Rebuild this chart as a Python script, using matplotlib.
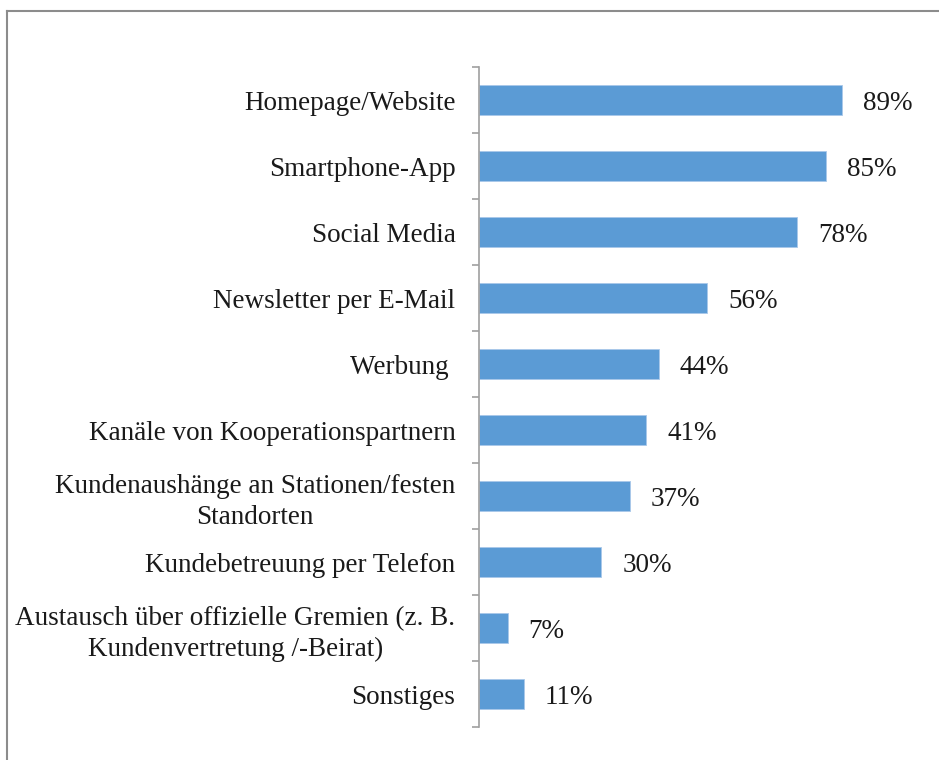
import numpy as np
import matplotlib.pyplot as plt
from matplotlib.lines import Line2D

plt.rcParams['font.family'] = ['Liberation Serif', 'DejaVu Serif']

categories = [
    'Homepage/Website',
    'Smartphone-App',
    'Social Media',
    'Newsletter per E-Mail',
    'Werbung ',
    'Kanäle von Kooperationspartnern',
    'Kundenaushänge an Stationen/festen\nStandorten',
    'Kundebetreuung per Telefon',
    'Austausch über offizielle Gremien (z. B.\nKundenvertretung /-Beirat)',
    'Sonstiges',
]
values = [89, 85, 78, 56, 44, 41, 37, 30, 7, 11]

fig = plt.figure(figsize=(9.39, 7.6), dpi=100)
ax = fig.add_axes([479/939, 1 - 727/760, 408/939, 660/760])

y = np.arange(len(categories))
ax.barh(y, values, height=0.46, color='#5B9BD5', edgecolor='#A9C8EA', linewidth=0.6)
ax.set_xlim(0, 100)
ax.set_ylim(len(categories) - 0.5, -0.5)

for yi, v in zip(y, values):
    ax.annotate(f'{v}%', (v, yi), xytext=(15, 0), textcoords='offset points',
                va='center_baseline', ha='left', fontsize=19.5, color='#1a1a1a')

ax.set_yticks(y)
ax.set_yticklabels(categories, fontsize=19.5, color='#1a1a1a',
                   multialignment='center', linespacing=1.3)
ax.tick_params(axis='y', which='major', length=0, pad=17)
ax.set_yticks(np.arange(-0.5, len(categories)), minor=True)
ax.tick_params(axis='y', which='minor', length=5, width=1.2, color='#A0A0A0', direction='out')
ax.set_xticks([])

for s in ['top', 'right', 'bottom']:
    ax.spines[s].set_visible(False)
ax.spines['left'].set_color('#A0A0A0')
ax.spines['left'].set_linewidth(1.2)

# outer chart frame (right and bottom edges lie outside the image)
fig.add_artist(Line2D([6.5/939, 6.5/939], [0, 1 - 11/760], color='#8C8C8C', lw=1.5))
fig.add_artist(Line2D([6.5/939, 1], [1 - 11/760, 1 - 11/760], color='#8C8C8C', lw=1.5))

fig.savefig('out.png', dpi=100)
